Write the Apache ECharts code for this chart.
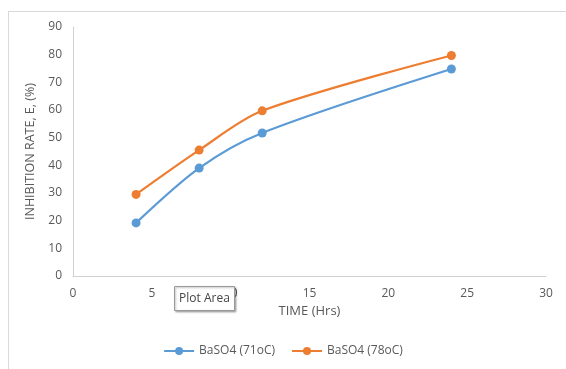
<!DOCTYPE html>
<html>
<head>
<meta charset="utf-8">
<script src="https://cdn.jsdelivr.net/npm/echarts@6/dist/echarts.min.js"></script>
<style>html,body{margin:0;padding:0;background:#fff}#c{width:566px;height:369px}</style>
</head>
<body>
<div id="c"></div>
<script>
const timeHrs = [4, 8, 12, 24];
const series71 = [19.2, 39, 51.7, 74.8];
const series78 = [29.5, 45.5, 59.7, 79.7];
const seriesNames = ['BaSO4 (71oC)', 'BaSO4 (78oC)'];
const xTitle = 'TIME (Hrs)';
const yTitle = 'INHIBITION RATE, E, (%)';
const colors = ['#5b9bd5', '#ed7d31'];

const font = '"Open Sans", "Noto Sans", sans-serif';
const chart = echarts.init(document.getElementById('c'), null, {renderer: 'canvas'});
const mk = (vals) => timeHrs.map((t, i) => [t, vals[i]]);
chart.setOption({
  animation: false,
  backgroundColor: '#fff',
  color: colors,
  grid: {left: 73, right: 20, top: 27, bottom: 93, containLabel: false},
  xAxis: {
    type: 'value', min: 0, max: 30, interval: 5,
    name: xTitle, nameLocation: 'middle', nameGap: 28,
    nameTextStyle: {color: '#595959', fontSize: 13, fontFamily: font},
    axisLine: {show: true, lineStyle: {color: '#d0d0d0', width: 1}},
    axisTick: {show: false},
    splitLine: {show: false},
    axisLabel: {color: '#595959', fontSize: 12, fontFamily: font, margin: 12}
  },
  yAxis: {
    type: 'value', min: 0, max: 90, interval: 10,
    name: yTitle, nameLocation: 'middle', nameGap: 27, nameRotate: 90,
    nameTextStyle: {color: '#595959', fontSize: 12.5, fontFamily: font},
    axisLine: {show: true, lineStyle: {color: '#d0d0d0', width: 1}},
    axisTick: {show: false},
    splitLine: {show: false},
    axisLabel: {color: '#595959', fontSize: 12, fontFamily: font, margin: 11}
  },
  legend: {
    bottom: 7, left: 'center', itemGap: 16, itemWidth: 30, itemHeight: 10,
    textStyle: {color: '#595959', fontSize: 12, fontFamily: font},
    data: seriesNames
  },
  series: [
    {name: seriesNames[0], type: 'line', smooth: 0.3, data: mk(series71), symbol: 'circle', symbolSize: 9,
     lineStyle: {width: 2.2}, itemStyle: {color: colors[0]}},
    {name: seriesNames[1], type: 'line', smooth: 0.3, data: mk(series78), symbol: 'circle', symbolSize: 9,
     lineStyle: {width: 2.2}, itemStyle: {color: colors[1]}}
  ],
  graphic: [
    {type: 'line', shape: {x1: 8, y1: 11.5, x2: 566, y2: 11.5}, style: {stroke: '#d9d9d9', lineWidth: 1}, silent: true},
    {type: 'line', shape: {x1: 8.5, y1: 11, x2: 8.5, y2: 369}, style: {stroke: '#d9d9d9', lineWidth: 1}, silent: true},
    {type: 'rect', shape: {x: 174.5, y: 286.5, width: 60, height: 24}, z: 100,
     style: {fill: '#fff', stroke: '#9a9a9a', lineWidth: 1, shadowBlur: 2, shadowOffsetX: 1, shadowOffsetY: 1, shadowColor: 'rgba(0,0,0,0.3)'}},
    {type: 'text', x: 204.5, y: 298.5, z: 101,
     style: {text: 'Plot Area', fill: '#444', fontSize: 12, fontFamily: font, align: 'center', verticalAlign: 'middle'}}
  ]
});
</script>
</body>
</html>
